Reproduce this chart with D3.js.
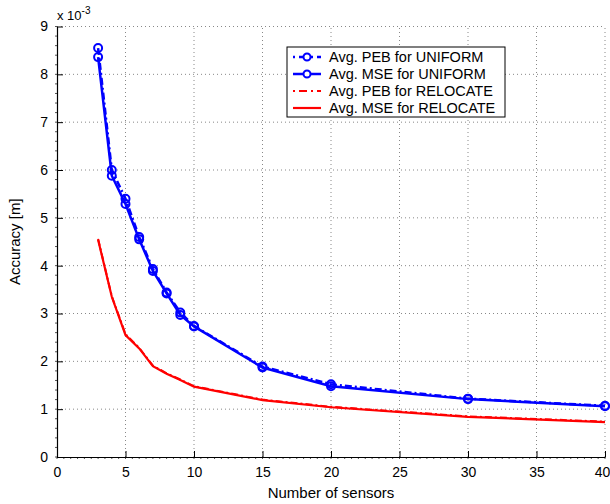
<!DOCTYPE html>
<html>
<head>
<meta charset="utf-8">
<script src="https://cdn.jsdelivr.net/npm/d3@7"></script>
<style>
	body { margin: 0; background: #fff; }
	text { font-family: "Liberation Sans", Arial, sans-serif; }
</style>
</head>
<body>
<svg id="chart"></svg>
<script>
const svgWidth = 610;
const svgHeight = 504;
const margin = {left: 57, right: 5, top: 26.5, bottom: 47};

// data (accuracy in units of 1e-3 m)
const sensorsUniform = [3, 4, 5, 6, 7, 8, 9, 10, 15, 20, 30, 40];
const pebUniform = [8.55, 6.00, 5.40, 4.60, 3.93, 3.44, 3.02, 2.74, 1.89, 1.52, 1.22, 1.07];
const mseUniform = [8.36, 5.88, 5.29, 4.55, 3.89, 3.42, 2.97, 2.73, 1.87, 1.48, 1.21, 1.06];
const sensorsRelocate = [3, 4, 5, 6, 7, 8, 9, 10, 15, 20, 30, 40];
const pebRelocate = [4.56, 3.36, 2.57, 2.28, 1.91, 1.75, 1.62, 1.48, 1.20, 1.05, 0.85, 0.74];
const mseRelocate = [4.54, 3.35, 2.55, 2.27, 1.90, 1.74, 1.61, 1.47, 1.19, 1.04, 0.84, 0.73];
const xTicks = [0, 5, 10, 15, 20, 25, 30, 35, 40];
const yTicks = [0, 1, 2, 3, 4, 5, 6, 7, 8, 9];
const legendLabels = ["Avg. PEB for UNIFORM", "Avg. MSE for UNIFORM", "Avg. PEB for RELOCATE", "Avg. MSE for RELOCATE"];

const svg = d3.select("#chart")
	.attr("width", svgWidth)
	.attr("height", svgHeight);

const xScale = d3.scaleLinear()
	.domain([0, 40])
	.range([margin.left, svgWidth - margin.right]);
const yScale = d3.scaleLinear()
	.domain([0, 9])
	.range([svgHeight - margin.bottom, margin.top]);

// dotted grid
svg.append("g")
	.selectAll("line")
	.data(xTicks.slice(1))
	.join("line")
		.attr("x1", d => xScale(d)).attr("x2", d => xScale(d))
		.attr("y1", yScale(0)).attr("y2", yScale(9))
		.attr("stroke", "#888")
		.attr("stroke-width", 1)
		.attr("stroke-dasharray", "1,3");
svg.append("g")
	.selectAll("line")
	.data(yTicks.slice(1))
	.join("line")
		.attr("x1", xScale(0)).attr("x2", xScale(40))
		.attr("y1", d => yScale(d)).attr("y2", d => yScale(d))
		.attr("stroke", "#888")
		.attr("stroke-width", 1)
		.attr("stroke-dasharray", "1,3");

// minor ticks
svg.append("g")
	.selectAll("line")
	.data(d3.range(0, 40.01, 0.5))
	.join("line")
		.attr("x1", d => xScale(d)).attr("x2", d => xScale(d))
		.attr("y1", yScale(0)).attr("y2", yScale(0) + 2)
		.attr("stroke", "#555");
svg.append("g")
	.selectAll("line")
	.data(d3.range(0, 9.01, 0.2))
	.join("line")
		.attr("x1", xScale(0) - 2).attr("x2", xScale(0))
		.attr("y1", d => yScale(d)).attr("y2", d => yScale(d))
		.attr("stroke", "#555");

// axes
let xAxis = d3.axisBottom(xScale)
	.tickValues(xTicks)
	.tickSize(-6)
	.tickSizeOuter(0)
	.tickPadding(10);
let yAxis = d3.axisLeft(yScale)
	.tickValues(yTicks)
	.tickSize(-6)
	.tickSizeOuter(0)
	.tickPadding(9);

svg.append("g")
	.attr("transform", `translate(0, ${yScale(0)})`)
	.call(xAxis)
	.call(g => g.selectAll("text").attr("font-size", "14px").attr("fill", "#000"))
	.call(g => g.selectAll(".tick").filter(d => d === 40).select("text").attr("dx", -3))
	.call(g => g.select(".domain").attr("stroke-width", 1.2));
svg.append("g")
	.attr("transform", `translate(${xScale(0)}, 0)`)
	.call(yAxis)
	.call(g => g.selectAll("text").attr("font-size", "14px").attr("fill", "#000"))
	.call(g => g.select(".domain").attr("stroke-width", 1.2));

// exponent label
let expLabel = svg.append("text")
	.attr("x", xScale(0))
	.attr("y", 20)
	.attr("font-size", "13px");
expLabel.append("tspan").text("x 10");
expLabel.append("tspan").text("-3").attr("dy", -6).attr("font-size", "10px");

// axis labels
svg.append("text")
	.text("Number of sensors")
	.attr("x", (xScale(0) + xScale(40)) / 2)
	.attr("y", 498)
	.attr("font-size", "15px")
	.attr("text-anchor", "middle");
svg.append("text")
	.text("Accuracy [m]")
	.attr("transform", "rotate(-90)")
	.attr("x", -(yScale(0) + yScale(9)) / 2)
	.attr("y", 20)
	.attr("font-size", "15px")
	.attr("text-anchor", "middle");

// series
const series = [
	{xs: sensorsUniform, ys: pebUniform, color: "#0000ff", dash: "7,3,2,3", width: 2.5, marker: true},
	{xs: sensorsUniform, ys: mseUniform, color: "#0000ff", dash: null, width: 2.5, marker: true},
	{xs: sensorsRelocate, ys: pebRelocate, color: "#ff0000", dash: "7,3,2,3", width: 2, marker: false},
	{xs: sensorsRelocate, ys: mseRelocate, color: "#ff0000", dash: null, width: 2.2, marker: false}
];

const line = d3.line()
	.x(d => xScale(d[0]))
	.y(d => yScale(d[1]));

series.forEach(s => {
	let pts = s.xs.map((x, i) => [x, s.ys[i]]);
	svg.append("path")
		.datum(pts)
		.attr("d", line)
		.attr("fill", "none")
		.attr("stroke", s.color)
		.attr("stroke-width", s.width)
		.attr("stroke-dasharray", s.dash);
	if (s.marker) {
		svg.append("g")
			.selectAll("circle")
			.data(pts)
			.join("circle")
				.attr("cx", d => xScale(d[0]))
				.attr("cy", d => yScale(d[1]))
				.attr("r", 4)
				.attr("fill", "none")
				.attr("stroke", s.color)
				.attr("stroke-width", 2);
	}
});

// legend
const legend = svg.append("g").attr("transform", "translate(287, 47)");
legend.append("rect")
	.attr("width", 218)
	.attr("height", 70)
	.attr("fill", "#fff")
	.attr("stroke", "#000")
	.attr("stroke-width", 1);
legendLabels.forEach((label, i) => {
	let s = series[i];
	let y = 10 + i * 17;
	legend.append("line")
		.attr("x1", 6).attr("x2", 34)
		.attr("y1", y).attr("y2", y)
		.attr("stroke", s.color)
		.attr("stroke-width", s.width)
		.attr("stroke-dasharray", s.dash ? "2,4,8,4" : null);
	if (s.marker) {
		legend.append("circle")
			.attr("cx", 20).attr("cy", y)
			.attr("r", 3.5)
			.attr("fill", "#fff")
			.attr("stroke", s.color)
			.attr("stroke-width", 2);
	}
	legend.append("text")
		.text(label)
		.attr("x", 42)
		.attr("y", y)
		.attr("dy", "0.35em")
		.attr("font-size", "14.5px");
});
</script>
</body>
</html>
